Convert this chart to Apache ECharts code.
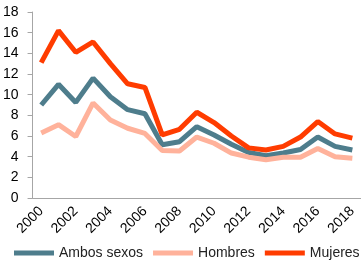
<!DOCTYPE html>
<html>
<head>
<meta charset="utf-8">
<script src="https://cdn.jsdelivr.net/npm/echarts@6/dist/echarts.min.js"></script>
<style>
  html, body { margin: 0; padding: 0; background: #fff; }
  #chart { width: 361px; height: 261px; }
</style>
</head>
<body>
<div id="chart"></div>
<script>
var years = ['2000', '2001', '2002', '2003', '2004', '2005', '2006', '2007', '2008', '2009',
  '2010', '2011', '2012', '2013', '2014', '2015', '2016', '2017', '2018'];
var ambos = [9.0, 11.0, 9.25, 11.6, 9.8, 8.55, 8.15, 5.15, 5.45, 6.9,
  6.1, 5.2, 4.4, 4.1, 4.35, 4.7, 5.9, 5.0, 4.65];
var hombres = [6.3, 7.1, 5.95, 9.2, 7.55, 6.75, 6.25, 4.6, 4.55, 5.9,
  5.3, 4.35, 3.95, 3.7, 3.95, 3.95, 4.8, 4.0, 3.85];
var mujeres = [13.1, 16.2, 14.1, 15.1, 13.0, 11.05, 10.7, 6.1, 6.65, 8.3,
  7.3, 6.0, 4.85, 4.65, 5.0, 5.9, 7.4, 6.2, 5.8];

var gris = '#a6a6a6';
var myChart = echarts.init(document.getElementById('chart'));

var option = {
  animation: false,
  textStyle: { fontFamily: 'Liberation Sans' },
  grid: { left: 30, right: -2, top: 12, bottom: 63 },
  legend: {
    left: 14,
    bottom: 1,
    width: 350,
    padding: 0,
    icon: 'rect',
    itemWidth: 40,
    itemHeight: 5,
    itemGap: 10,
    textStyle: { fontSize: 14, color: '#222', fontFamily: 'Liberation Sans' },
    data: ['Ambos sexos', 'Hombres', 'Mujeres']
  },
  xAxis: {
    type: 'category',
    boundaryGap: true,
    data: years,
    axisLine: { lineStyle: { color: gris } },
    axisTick: { length: 5, interval: 0, lineStyle: { color: gris } },
    axisLabel: {
      rotate: 45,
      interval: 1,
      fontSize: 14,
      color: '#000',
      margin: 11
    }
  },
  yAxis: {
    type: 'value',
    min: 0,
    max: 18,
    interval: 2,
    splitLine: { show: false },
    axisLine: { show: true, lineStyle: { color: gris } },
    axisTick: { show: true, length: 5, lineStyle: { color: gris } },
    axisLabel: { fontSize: 14, color: '#000', margin: 14 }
  },
  series: [
    {
      name: 'Ambos sexos',
      type: 'line',
      data: ambos,
      showSymbol: false,
      color: '#4e7d8c',
      lineStyle: { width: 5 }
    },
    {
      name: 'Hombres',
      type: 'line',
      data: hombres,
      showSymbol: false,
      color: '#ffb29b',
      lineStyle: { width: 5 }
    },
    {
      name: 'Mujeres',
      type: 'line',
      data: mujeres,
      showSymbol: false,
      color: '#ff3c00',
      lineStyle: { width: 5 }
    }
  ]
};
myChart.setOption(option);
</script>
</body>
</html>
